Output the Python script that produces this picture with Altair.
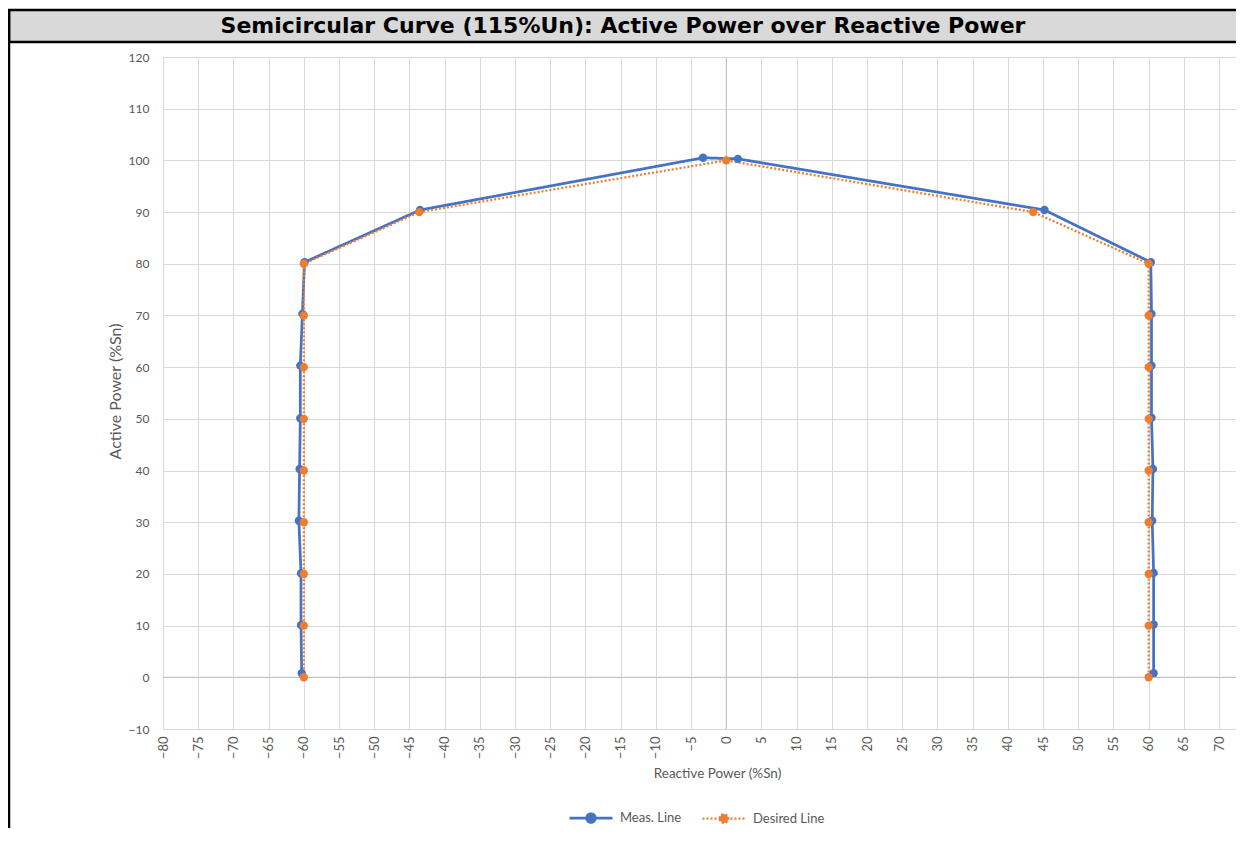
import altair as alt
import pandas as pd

# ---- data ----
series_names = ["Meas. Line", "Desired Line"]
series_colors = ["#4472C4", "#ED7D31"]
series_widths = [2.75, 2.25]

meas_q = [-60.3, -60.4, -60.4, -60.7, -60.6, -60.5, -60.5, -60.2, -59.9,
          -43.5, -3.3, 1.65, 45.2,
          60.3, 60.4, 60.4, 60.4, 60.6, 60.5, 60.7, 60.7, 60.7]
meas_p = [0.8, 10.1, 20.1, 30.3, 40.3, 50.1, 60.3, 70.3, 80.3,
          90.4, 100.5, 100.3, 90.4,
          80.3, 70.3, 60.3, 50.2, 40.3, 30.3, 20.2, 10.2, 0.8]

des_q = [-60, -60, -60, -60, -60, -60, -60, -60, -60,
         -43.6, 0, 43.6,
         60, 60, 60, 60, 60, 60, 60, 60, 60]
des_p = [0, 10, 20, 30, 40, 50, 60, 70, 80,
         90, 100, 90,
         80, 70, 60, 50, 40, 30, 20, 10, 0]

x_ticks = list(range(-80, 71, 5))
y_ticks = list(range(-10, 121, 10))

title_text = "Semicircular Curve (115%Un): Active Power over Reactive Power"

rows = []
for i, (q, p) in enumerate(zip(meas_q, meas_p)):
    rows.append({"series": series_names[0], "q": q, "p": p, "idx": i})
for i, (q, p) in enumerate(zip(des_q, des_p)):
    rows.append({"series": series_names[1], "q": q, "p": p, "idx": i})
df = pd.DataFrame(rows)

W, H = 1073, 672
FONT = "Lato"
LBL = "#595959"

xscale = alt.Scale(domain=[-80, 72.4], nice=False, zero=False)
yscale = alt.Scale(domain=[-10, 120], nice=False, zero=False)

legend_path = "M-1,0H1M-0.2,0A0.2,0.2,0,1,1,0.2,0A0.2,0.2,0,1,1,-0.2,0Z"
legend = alt.Legend(
    title=None, orient="none", legendX=405, legendY=738, direction="horizontal",
    symbolType=legend_path, symbolSize=1849, symbolStrokeWidth=2,
    labelFont=FONT, labelFontSize=13, labelColor=LBL, columnPadding=16, labelOffset=6,
)

color = alt.Color("series:N", scale=alt.Scale(domain=series_names, range=series_colors), legend=legend)
dash = alt.StrokeDash("series:N", scale=alt.Scale(domain=series_names, range=[[1, 0], [2, 2]]), legend=legend)
swidth = alt.StrokeWidth("series:N", scale=alt.Scale(domain=series_names, range=series_widths), legend=None)

xenc = alt.X("q:Q", scale=xscale, axis=alt.Axis(
    values=x_ticks, tickCount=len(x_ticks), labelOverlap=False, labelAngle=270,
    title="Reactive Power (%Sn)", grid=True, gridColor="#d9d9d9",
    ticks=False, domain=False, labelPadding=7, labelFont=FONT, labelFontSize=13, labelColor=LBL,
    titleFont=FONT, titleFontSize=13.5, titleFontWeight="normal", titleColor=LBL,
    titleX=554, titleY=44, titleAlign="center", titleBaseline="middle"))
yenc = alt.Y("p:Q", scale=yscale, axis=alt.Axis(
    values=y_ticks, tickCount=len(y_ticks), labelOverlap=False,
    title="Active Power (%Sn)", grid=True, gridColor="#d9d9d9",
    ticks=False, domain=False, labelPadding=14, labelFont=FONT, labelFontSize=12, labelColor=LBL,
    titleFont=FONT, titleFontSize=16, titleFontWeight="normal", titleColor=LBL,
    titleX=-48, titleY=H / 2 - 2, titleAngle=270, titleBaseline="middle"))

zero = pd.DataFrame({"v": [0]})
zero_h = alt.Chart(zero).mark_rule(color="#bfbfbf", strokeWidth=1).encode(y=alt.Y("v:Q", scale=yscale))
zero_v = alt.Chart(zero).mark_rule(color="#bfbfbf", strokeWidth=1).encode(x=alt.X("v:Q", scale=xscale))

lines = alt.Chart(df).mark_line().encode(
    x=xenc, y=yenc, color=color, strokeDash=dash, strokeWidth=swidth, order="idx:Q")
points = alt.Chart(df).mark_point(filled=True, size=70, opacity=1).encode(
    x="q:Q", y="p:Q", color=color)

one = alt.Data(values=[{"a": 1}])
band = alt.Chart(one).mark_rect(fill="#d9d9d9", stroke="#000000", strokeWidth=2.5).encode(
    x=alt.value(-154), x2=alt.value(W + 2), y=alt.value(-47), y2=alt.value(-15))
title = alt.Chart(one).mark_text(font="DejaVu Sans", fontWeight="bold", fontSize=22,
                                 baseline="middle", align="center", color="#000000").encode(
    x=alt.value(460), y=alt.value(-31), text=alt.value(title_text))
left_border = alt.Chart(one).mark_rule(color="#000000", strokeWidth=2.5).encode(
    x=alt.value(-154), y=alt.value(-47), y2=alt.value(H + 110))

chart = alt.layer(zero_h, zero_v, lines, points, band, title, left_border).properties(
    width=W, height=H,
    autosize=alt.AutoSizeParams(type="none"),
    padding={"left": 155, "top": 49, "right": 0, "bottom": 99},
).configure_view(stroke=None).configure(background="#ffffff")

chart.save("out.html", embed_options={"renderer": "svg", "actions": False})
